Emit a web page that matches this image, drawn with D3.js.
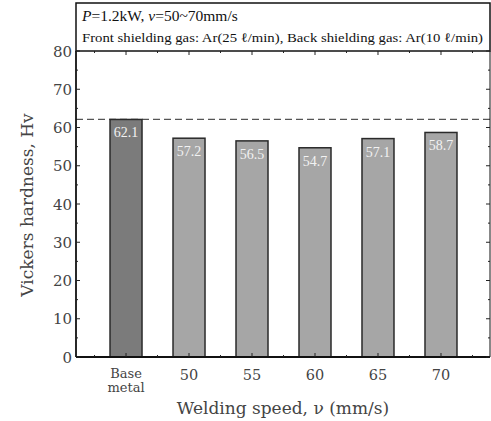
<!DOCTYPE html>
<html>
<head>
<meta charset="utf-8">
<script src="https://cdn.jsdelivr.net/npm/d3@7"></script>
<style>
  body { margin: 0; background: #fff; }
  svg { display: block; }
</style>
</head>
<body>
<svg id="chart" width="491" height="421"></svg>
<script>
// data
const categories = ["Base metal", "50", "55", "60", "65", "70"];
const hardness = [62.1, 57.2, 56.5, 54.7, 57.1, 58.7];
const baseLevel = 62.1;
const yTicks = [0, 10, 20, 30, 40, 50, 60, 70, 80];

const plotL = 76, plotR = 490, plotT = 51, plotB = 357;
const SERIF = "'Liberation Serif', 'Times New Roman', serif";
const LABEL = "'DejaVu Serif', serif";
const LABEL_COLOR = "#444";

const svg = d3.select("#chart");

const x = d3.scaleLinear().domain([-0.794, 5.778]).range([plotL, plotR]);
const y = d3.scaleLinear().domain([0, 80]).range([plotB, plotT]);
const barW = 32;

// header box
svg.append("rect").attr("x", plotL).attr("y", 3).attr("width", plotR - plotL).attr("height", plotT - 3)
   .attr("fill", "none").attr("stroke", "#111").attr("stroke-width", 1.5);

const h1 = svg.append("text").attr("x", 82).attr("y", 21).attr("font-family", SERIF).attr("font-size", 15.5).attr("fill", "#111");
h1.append("tspan").attr("font-style", "italic").text("P");
h1.append("tspan").text("=1.2kW, ");
h1.append("tspan").attr("font-style", "italic").text("v");
h1.append("tspan").text("=50~70mm/s");

svg.append("text").attr("x", 82).attr("y", 42).attr("font-family", SERIF).attr("font-size", 13).attr("fill", "#111")
   .attr("textLength", 401).attr("lengthAdjust", "spacingAndGlyphs")
   .text("Front shielding gas: Ar(25 \u2113/min), Back shielding gas: Ar(10 \u2113/min)");

// dashed base metal level
svg.append("line").attr("x1", plotL).attr("x2", plotR).attr("y1", y(baseLevel)).attr("y2", y(baseLevel))
   .attr("stroke", "#555").attr("stroke-width", 1.2).attr("stroke-dasharray", "7,4");

// bars
svg.append("g").selectAll("rect")
   .data(hardness)
   .join("rect")
   .attr("x", (d, i) => x(i) - barW / 2)
   .attr("y", d => y(d))
   .attr("width", barW)
   .attr("height", d => y(0) - y(d))
   .attr("fill", (d, i) => i === 0 ? "#7b7b7b" : "#a6a6a6")
   .attr("stroke", "#2a2a2a")
   .attr("stroke-width", 1.5);

// value labels
svg.append("g").selectAll("text")
   .data(hardness)
   .join("text")
   .attr("x", (d, i) => x(i))
   .attr("y", d => y(d) + 18)
   .attr("text-anchor", "middle")
   .attr("font-family", SERIF)
   .attr("font-size", 14)
   .attr("fill", "#f2f2f2")
   .text(d => d.toFixed(1));

// frame: left, bottom, right
const frame = svg.append("g").attr("stroke", "#111").attr("stroke-width", 1.8);
frame.append("line").attr("x1", plotL).attr("x2", plotL).attr("y1", plotT).attr("y2", plotB);
frame.append("line").attr("x1", plotL).attr("x2", plotR).attr("y1", plotB).attr("y2", plotB);
frame.append("line").attr("x1", plotR).attr("x2", plotR).attr("y1", plotT).attr("y2", plotB).attr("stroke-width", 1);

// y ticks (inward, both sides)
const yMinor = d3.range(5, 80, 10);
const tk = svg.append("g").attr("stroke", "#222").attr("stroke-width", 1);
yTicks.forEach(v => {
  tk.append("line").attr("x1", plotL).attr("x2", plotL + 4).attr("y1", y(v)).attr("y2", y(v));
  tk.append("line").attr("x1", plotR).attr("x2", plotR - 4).attr("y1", y(v)).attr("y2", y(v));
});
yMinor.forEach(v => {
  tk.append("line").attr("x1", plotL).attr("x2", plotL + 2).attr("y1", y(v)).attr("y2", y(v));
  tk.append("line").attr("x1", plotR).attr("x2", plotR - 2).attr("y1", y(v)).attr("y2", y(v));
});
// x ticks (inward, top and bottom)
categories.forEach((c, i) => {
  tk.append("line").attr("x1", x(i)).attr("x2", x(i)).attr("y1", plotB).attr("y2", plotB - 4);
  tk.append("line").attr("x1", x(i)).attr("x2", x(i)).attr("y1", plotT).attr("y2", plotT + 4);
});
d3.range(-0.5, 6, 1).forEach(v => {
  tk.append("line").attr("x1", x(v)).attr("x2", x(v)).attr("y1", plotB).attr("y2", plotB - 2);
  tk.append("line").attr("x1", x(v)).attr("x2", x(v)).attr("y1", plotT).attr("y2", plotT + 2);
});

// y tick labels
svg.append("g").selectAll("text")
   .data(yTicks)
   .join("text")
   .attr("x", plotL - 4)
   .attr("y", d => y(d) + 5.5)
   .attr("text-anchor", "end")
   .attr("font-family", LABEL)
   .attr("font-size", 15)
   .attr("fill", LABEL_COLOR)
   .text(d => d);

// x tick labels
const xl = svg.append("g").attr("font-family", LABEL).attr("font-size", 14.5).attr("fill", LABEL_COLOR).attr("text-anchor", "middle");
categories.forEach((c, i) => {
  if (c === "Base metal") {
    xl.append("text").attr("x", x(i)).attr("y", 378).attr("font-size", 13).text("Base");
    xl.append("text").attr("x", x(i)).attr("y", 392).attr("font-size", 13).text("metal");
  } else {
    xl.append("text").attr("x", x(i)).attr("y", 380).text(c);
  }
});

// axis titles
svg.append("text").attr("x", 283).attr("y", 414).attr("text-anchor", "middle")
   .attr("font-family", LABEL).attr("font-size", 17).attr("fill", LABEL_COLOR)
   .text("Welding speed, \u03bd (mm/s)");

svg.append("text").attr("transform", "translate(33,205) rotate(-90)").attr("text-anchor", "middle")
   .attr("font-family", LABEL).attr("font-size", 17).attr("fill", LABEL_COLOR)
   .text("Vickers hardness, Hv");
</script>
</body>
</html>
